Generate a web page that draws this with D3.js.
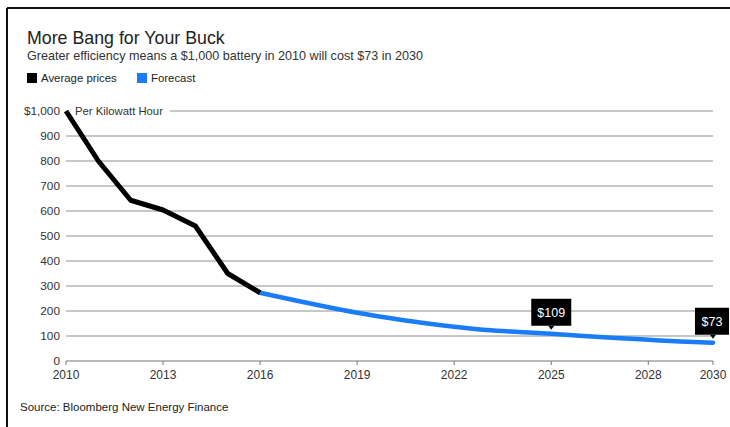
<!DOCTYPE html>
<html>
<head>
<meta charset="utf-8">
<script src="https://cdn.jsdelivr.net/npm/d3@7"></script>
<style>
  body { margin: 0; background: #fff; }
  svg text { font-family: "Liberation Sans", Arial, sans-serif; }
</style>
</head>
<body>
<div id="chart"></div>
<script>
// historical average prices ($ per kWh)
var histYears = [2010, 2011, 2012, 2013, 2014, 2015, 2016];
var histPrices = [1000, 800, 643, 604, 540, 350, 273];

// forecast
var fcYears = [2016, 2017, 2018, 2019, 2020, 2021, 2022, 2023, 2024, 2025, 2026, 2027, 2028, 2029, 2030];
var fcPrices = [273, 245, 218, 193, 172, 153, 137, 124, 116, 109, 100, 92, 85, 78, 73];

var xTicks = [2010, 2013, 2016, 2019, 2022, 2025, 2028, 2030];
var yTicks = [0, 100, 200, 300, 400, 500, 600, 700, 800, 900, 1000];

var callouts = [
    {year: 2025, value: 109, label: "$109"},
    {year: 2030, value: 73, label: "$73"}
];

var width = 730, height = 427;
var blue = "#1a7cf6";

var svg = d3.select("#chart")
    .append("svg")
    .attr("width", width)
    .attr("height", height);

// frame (top + left only)
svg.append("line").attr("x1", 7).attr("x2", width).attr("y1", 8).attr("y2", 8)
    .attr("stroke", "#111").attr("stroke-width", 2);
svg.append("line").attr("x1", 7).attr("x2", 7).attr("y1", 8).attr("y2", height)
    .attr("stroke", "#111").attr("stroke-width", 2);

// titles
svg.append("text").attr("x", 27).attr("y", 44)
    .style("font-size", "17.8px").attr("fill", "#222")
    .text("More Bang for Your Buck");
svg.append("text").attr("x", 27).attr("y", 60)
    .style("font-size", "12.6px").attr("fill", "#333")
    .text("Greater efficiency means a $1,000 battery in 2010 will cost $73 in 2030");

// legend
var legend = [{name: "Average prices", color: "#000", x: 27}, {name: "Forecast", color: blue, x: 137}];
legend.forEach(function(l) {
    svg.append("rect").attr("x", l.x).attr("y", 73).attr("width", 10).attr("height", 10).attr("fill", l.color);
    svg.append("text").attr("x", l.x + 14).attr("y", 82)
        .style("font-size", "11.4px").attr("fill", "#222").text(l.name);
});

var x = d3.scaleLinear().domain([2010, 2030]).range([66, 713]);
var y = d3.scaleLinear().domain([0, 1000]).range([361, 111]);

// gridlines
svg.append("g")
    .selectAll("line")
    .data(yTicks)
    .enter()
    .append("line")
    .attr("x1", function(d) { return d == 1000 ? 170 : x(2010); })
    .attr("x2", x(2030))
    .attr("y1", function(d) { return y(d); })
    .attr("y2", function(d) { return y(d); })
    .attr("stroke", function(d) { return d == 0 ? "#777" : "#8f8f8f"; })
    .attr("stroke-width", 1.2);

// y labels
svg.append("g")
    .selectAll("text")
    .data(yTicks)
    .enter()
    .append("text")
    .attr("x", 60)
    .attr("y", function(d) { return y(d) + 4; })
    .attr("text-anchor", "end")
    .style("font-size", "11.8px")
    .attr("fill", "#333")
    .text(function(d) { return d == 1000 ? "$1,000" : d; });

svg.append("text").attr("x", 75).attr("y", y(1000) + 4)
    .style("font-size", "11.3px").attr("fill", "#333").text("Per Kilowatt Hour");

// x axis ticks + labels
var xg = svg.append("g");
xg.selectAll("line")
    .data(xTicks)
    .enter()
    .append("line")
    .attr("x1", function(d) { return x(d); })
    .attr("x2", function(d) { return x(d); })
    .attr("y1", y(0))
    .attr("y2", y(0) + 4)
    .attr("stroke", "#777");
xg.selectAll("text")
    .data(xTicks)
    .enter()
    .append("text")
    .attr("x", function(d) { return x(d); })
    .attr("y", y(0) + 18)
    .attr("text-anchor", "middle")
    .style("font-size", "12px")
    .attr("fill", "#333")
    .text(function(d) { return d; });

// lines
var line = d3.line()
    .x(function(d) { return x(d[0]); })
    .y(function(d) { return y(d[1]); });

svg.append("path")
    .datum(d3.zip(fcYears, fcPrices))
    .attr("d", line.curve(d3.curveMonotoneX))
    .attr("fill", "none")
    .attr("stroke", blue)
    .attr("stroke-width", 4.5)
    .attr("stroke-linecap", "round");

svg.append("path")
    .datum(d3.zip(histYears, histPrices))
    .attr("d", line.curve(d3.curveLinear))
    .attr("fill", "none")
    .attr("stroke", "#000")
    .attr("stroke-width", 5)
    .attr("stroke-linejoin", "round");

// callouts
callouts.forEach(function(c) {
    var cx = x(c.year), cy = y(c.value);
    var g = svg.append("g");
    var w = c.label.length > 3 ? 40 : 34;
    var left = Math.min(cx - w / 2, width - w - 1);
    var top = cy - 35;
    g.append("rect").attr("x", left).attr("y", top).attr("width", w).attr("height", 27).attr("fill", "#000");
    g.append("path")
        .attr("d", "M" + (cx - 3) + "," + (top + 27) + "L" + (cx + 3) + "," + (top + 27) + "L" + cx + "," + (top + 31) + "Z")
        .attr("fill", "#000");
    g.append("text").attr("x", left + w / 2).attr("y", top + 18)
        .attr("text-anchor", "middle")
        .style("font-size", "12.5px").attr("fill", "#fff").text(c.label);
});

// source
svg.append("text").attr("x", 20).attr("y", 411)
    .style("font-size", "11.5px").attr("fill", "#222")
    .text("Source: Bloomberg New Energy Finance");
</script>
</body>
</html>
